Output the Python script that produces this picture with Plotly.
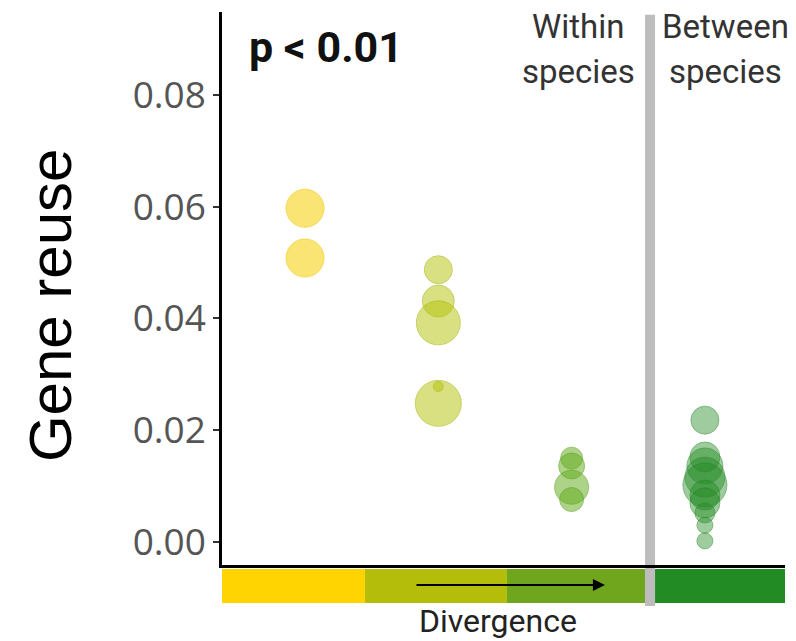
import plotly.graph_objects as go

# ---- data ----
group_names = ["Within species 1", "Within species 2", "Within species 3", "Between species"]
group_pos = [1, 2, 3, 4]
reuse_g1 = [0.0597, 0.0508]
size_g1 = [38, 38]
reuse_g2 = [0.0487, 0.0431, 0.0392, 0.0278, 0.0248]
size_g2 = [28, 32, 44, 10, 46]
reuse_g3 = [0.0150, 0.0136, 0.0098, 0.0076]
size_g3 = [22, 26, 34, 24]
reuse_g4 = [0.0218, 0.0152, 0.0136, 0.0116, 0.0102, 0.0084, 0.0070, 0.0052, 0.0030, 0.0002]
size_g4 = [28, 30, 36, 40, 44, 30, 30, 20, 16, 16]
y_ticks = [0.00, 0.02, 0.04, 0.06, 0.08]
y_tick_labels = ["0.00", "0.02", "0.04", "0.06", "0.08"]
bar_edges = [0.377, 1.450, 2.515, 3.551, 3.626, 4.601]

point_colors = ["rgba(246,208,0,0.78)", "rgba(180,194,10,0.72)",
                "rgba(100,172,30,0.75)", "rgba(34,139,34,0.62)"]
line_colors = ["rgba(240,200,0,0.9)", "rgba(165,180,10,0.8)",
               "rgba(90,160,25,0.8)", "rgba(30,130,30,0.7)"]
bar_colors = ["#FFD400", "#B4BE0A", "#6FA61E", "#BDBDBD", "#238B23"]

fig = go.Figure()
all_vals = [reuse_g1, reuse_g2, reuse_g3, reuse_g4]
all_sizes = [size_g1, size_g2, size_g3, size_g4]
for i, (vals, sizes) in enumerate(zip(all_vals, all_sizes)):
    fig.add_trace(go.Scatter(
        x=[group_pos[i]] * len(vals), y=vals, mode="markers", name=group_names[i],
        marker=dict(size=sizes, color=point_colors[i],
                    line=dict(color=line_colors[i], width=1)),
        showlegend=False, hoverinfo="y"))

shapes = []
# colour bar under the axis
for j in range(len(bar_edges) - 1):
    shapes.append(dict(type="rect", xref="x", yref="paper",
                       x0=bar_edges[j], x1=bar_edges[j + 1], y0=-0.0687, y1=-0.0072,
                       fillcolor=bar_colors[j], line=dict(width=0), layer="above"))
# gray separator
sep_x = (bar_edges[3] + bar_edges[4]) / 2
shapes.append(dict(type="line", xref="x", yref="paper", x0=sep_x, x1=sep_x,
                   y0=-0.074, y1=0.995, line=dict(color="#BDBDBD", width=10), layer="below"))

hdr_font = dict(family="Roboto", size=33, color="#333")
annotations = [
    dict(text="<b>p &lt; 0.01</b>", xref="paper", yref="paper", x=0.044, y=0.937,
         xanchor="left", yanchor="middle", showarrow=False,
         font=dict(family="Roboto", size=43, color="#111")),
    dict(text="Within", xref="x", yref="paper", x=3.048, y=0.973, borderpad=0,
         xanchor="center", yanchor="middle", showarrow=False, font=hdr_font),
    dict(text="species", xref="x", yref="paper", x=3.048, y=0.8933, borderpad=0,
         xanchor="center", yanchor="middle", showarrow=False, font=hdr_font),
    dict(text="Between", xref="x", yref="paper", x=4.158, y=0.973, borderpad=0,
         xanchor="center", yanchor="middle", showarrow=False, font=hdr_font),
    dict(text="species", xref="x", yref="paper", x=4.158, y=0.8933, borderpad=0,
         xanchor="center", yanchor="middle", showarrow=False, font=hdr_font),
    dict(text="Divergence", xref="x", yref="paper", x=2.448, y=-0.1005,
         xanchor="center", yanchor="middle", showarrow=False,
         font=dict(family="Roboto", size=32, color="#222")),
    dict(text="Gene reuse", xref="paper", yref="paper", x=-0.3055, y=0.47,
         xanchor="center", yanchor="middle", textangle=-90, showarrow=False,
         font=dict(family="Liberation Sans", size=60, color="#000")),
    dict(text="", xref="x", yref="paper", x=3.25, y=-0.0362, ax=1.825, ay=0,
         axref="x", ayref="pixel", showarrow=True, arrowhead=2, arrowsize=1.2,
         arrowwidth=2, arrowcolor="#000"),
]

fig.update_layout(
    width=788, height=633,
    margin=dict(l=214, r=11, t=4, b=76),
    paper_bgcolor="white", plot_bgcolor="white",
    shapes=shapes, annotations=annotations,
    xaxis=dict(range=[bar_edges[0], bar_edges[-1]], showgrid=False, zeroline=False,
               showticklabels=False, ticks="", showline=True, linecolor="#000",
               linewidth=2.5),
    yaxis=dict(range=[-0.00411, 0.0948], showgrid=False, zeroline=False,
               tickvals=y_ticks, ticktext=y_tick_labels, ticks="outside", ticklen=6,
               tickwidth=2, tickcolor="#333", showline=True, linecolor="#000",
               linewidth=2.5, tickfont=dict(family="Open Sans", size=37, color="#555")),
)

fig.write_html("out.html")
